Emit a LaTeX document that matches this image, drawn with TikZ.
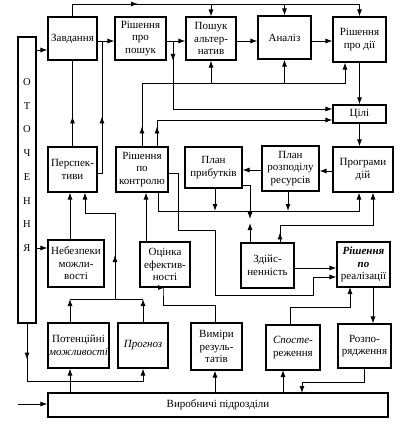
\documentclass[tikz,border=0pt]{standalone}
\usepackage{fontspec}
\setmainfont{Liberation Serif}
\usetikzlibrary{arrows.meta,decorations.markings,calc}
\tikzset{
  >={Latex[length=7pt,width=5pt]},
  box/.style={draw, line width=1.1pt, align=center, inner sep=1pt, font=\fontsize{11}{12.5}\selectfont},
  every path/.append style={line width=0.9pt},
  midarr/.style={postaction={decorate},decoration={markings,mark=at position #1 with {\arrow{>}}}}
}
\newcommand\mybox[6]{\node[box, minimum width={(#4-#2)*1pt}, minimum height={(#5-#3)*1pt}] (#1) at ({(#2+#4)/2},{(#3+#5)/2}) {#6};}
\begin{document}
\begin{tikzpicture}[x=1pt,y=-1pt]
\useasboundingbox (0,0) rectangle (410,425);
% boxes
\mybox{otoch}{18}{37}{36}{323}{}
\node[align=center, inner sep=0pt, font=\fontsize{10.5}{23.7}\selectfont] (otochtxt) at (27,165) {О\\Т\\О\\Ч\\Е\\Н\\Н\\Я};
\mybox{zavd}{48}{17}{97}{60}{Завдання}
\mybox{rpp}{115}{17}{166}{60}{Рішення\\про\\пошук}
\mybox{posh}{186}{17}{236}{60}{Пошук\\альтер-\\натив}
\mybox{anal}{258}{16}{311}{59}{Аналіз}
\mybox{rpd}{333}{17}{386}{62}{Рішення\\про дії}
\mybox{cili}{333}{105}{386}{123}{Цілі}
\mybox{persp}{48}{147}{97}{192}{Перспек-\\тиви}
\mybox{rpk}{116}{147}{168}{192}{Рішення\\по\\контролю}
\mybox{plan1}{185}{147}{242}{188}{План\\прибутків}
\mybox{plan2}{262}{146}{319}{191}{План\\розподілу\\ресурсів}
\mybox{prog}{333}{147}{393}{192}{Програми\\дій}
\mybox{nebez}{48}{240}{104}{287}{Небезпеки\\можли-\\вості}
\mybox{ocin}{140}{242}{190}{287}{Оцінка\\ефектив-\\ності}
\mybox{zdiys}{241}{243}{294}{288}{Здійс-\\ненність}
\mybox{rpr}{337}{242}{390}{287}{\textbf{\textit{Рішення}}\\\textbf{\textit{по}}\\реалізації}
\mybox{poten}{48}{323}{109}{368}{Потенційні\\\textit{можливості}}
\mybox{progn}{118}{323}{168}{368}{\textit{Прогноз}}
\mybox{vym}{191}{323}{242}{370}{Виміри\\резуль-\\татів}
\mybox{spos}{266}{325}{320}{370}{\textit{Спосте-}\\реження}
\mybox{rozp}{338}{324}{391}{368}{Розпо-\\рядження}
\mybox{vyrob}{48}{393}{388}{417}{Виробничі підрозділи}
% helper coordinates
\coordinate (ytop) at (0,4);
\coordinate (yc) at (0,41);
\coordinate (x70) at (70,0);
\coordinate (p102) at (102,173);
\coordinate (pj1) at (70,299);
\coordinate (pj2) at (143,299);
\coordinate (pk1) at (115,299);
\coordinate (pk2) at (115,213);
\coordinate (pk3) at (85,213);
\coordinate (yb) at (0,381);
\coordinate (c173) at (173,41);
\coordinate (c173b) at (173,109);
\coordinate (y83) at (0,83);
\coordinate (x345) at (345,0);
\coordinate (c157) at (157,120);
\coordinate (y211) at (0,211);
\coordinate (c158) at (158,0);
\coordinate (c359) at (359,0);
\coordinate (c215) at (215,0);
\coordinate (c288) at (288,0);
\coordinate (c250) at (250,185);
\coordinate (z1) at (280,225);
\coordinate (x373) at (373,0);
\coordinate (c146) at (146,0);
\coordinate (inp) at (18,404);
% top line
\draw[->, midarr=78pt] (zavd.north) -- (zavd.north |- ytop) -- (rpd.north |- ytop) -- (rpd.north);
\draw[->] (posh.north |- ytop) -- (posh.north);
\draw[->] (anal.north |- ytop) -- (anal.north);
% chain
\draw[->] (zavd.east |- yc) -- (rpp.west |- yc);
\draw[->] (rpp.east |- yc) -- (posh.west |- yc);
\draw[->] (posh.east |- yc) -- (anal.west |- yc);
\draw[->] (anal.east |- yc) -- (rpd.west |- yc);
% environment
\draw[->] (otoch.east |- 0,50) -- (zavd.west |- 0,50);
\draw[->] (otoch.east |- 0,248) -- (nebez.west |- 0,248);
\draw[->, midarr=36pt] (otoch.south) -- (otoch.south |- yb) -| (progn.south);
% left column
\draw[midarr=30pt] (persp.north) -- (zavd.south);
\draw[midarr=61pt] (persp.east |- p102) -- (p102) -- (p102 |- yc);
\draw[->] (x70 |- nebez.north) -- (x70 |- persp.south);
\draw[->] (pj1 |- poten.north) -- (pj1);
\draw[->] (progn.north) -- (pj2);
\draw (pj1) -- (pj2);
\draw[->, midarr=44pt] (pk1) -- (pk2) -- (pk3) -- (pk3 |- persp.south);
\draw[->] (pj1 |- vyrob.north) -- (pj1 |- poten.south);
% to goals
\draw[->, midarr=20pt] (c173) -- (c173b) -- (cili.west |- c173b);
\draw[->, midarr=20pt] (rpk.north) -- (rpk.north |- y83) -- (x345 |- y83) -- (x345 |- rpd.south);
\draw[->] (posh.south |- y83) -- (posh.south);
\draw[->] (anal.south |- y83) -- (anal.south);
\draw[->, midarr=20pt] (c157 |- rpk.north) -- (c157) -- (cili.west |- c157);
\draw[->] (rpd.south) -- (cili.north);
\draw[->] (cili.south) -- (cili.south |- prog.north);
% plans
\draw[->] (prog.west |- 0,171) -- (plan2.east |- 0,171);
\draw[->] (plan2.west |- 0,170) -- (plan1.east |- 0,170);
\draw[->] (c158 |- rpk.south) -- (c158 |- y211) -- (c359 |- y211) -- (c359 |- prog.south);
\draw[->] (c215 |- plan1.south) -- (c215 |- y211);
\draw[->] (c288 |- plan2.south) -- (c288 |- y211);
\draw[->] (plan1.east |- c250) -- (c250) -- (c250 |- 0,219);
\draw[->] (c250 |- zdiys.north) -- (c250 |- 0,223);
\draw[->, midarr=10pt] (z1 |- zdiys.north) -- (z1) -- (x373 |- z1) -- (x373 |- prog.south);
% realisation
\draw[->] (zdiys.east |- 0,268) -- (rpr.west |- 0,268);
\draw[->] (rpk.east |- 0,173) -- (178,173) -- (178,230) -- (215,230) -- (215,295) -- (313,295) -- (313,277) -- (rpr.west |- 0,277);
\draw[->] (c146 |- ocin.north) -- (c146 |- rpk.south);
\draw[->] (c215 |- vym.north) -- (215,305) -- (163,305) -- (163,287) |- (ocin.south);
\draw[->] (x373 |- rpr.south) -- (x373 |- rozp.north);
\draw[->] (290,325) -- (290,307) -- (350,307) -- (350,287);
\draw[->] (364,368) -- (364,382) -- (302,382) -- (302,393);
\draw[->] (283,393) -- (283,370);
\draw[->] (c215 |- vyrob.north) -- (c215 |- vym.south);
\draw[->] (inp) -- (vyrob.west |- inp);
\end{tikzpicture}
\end{document}
